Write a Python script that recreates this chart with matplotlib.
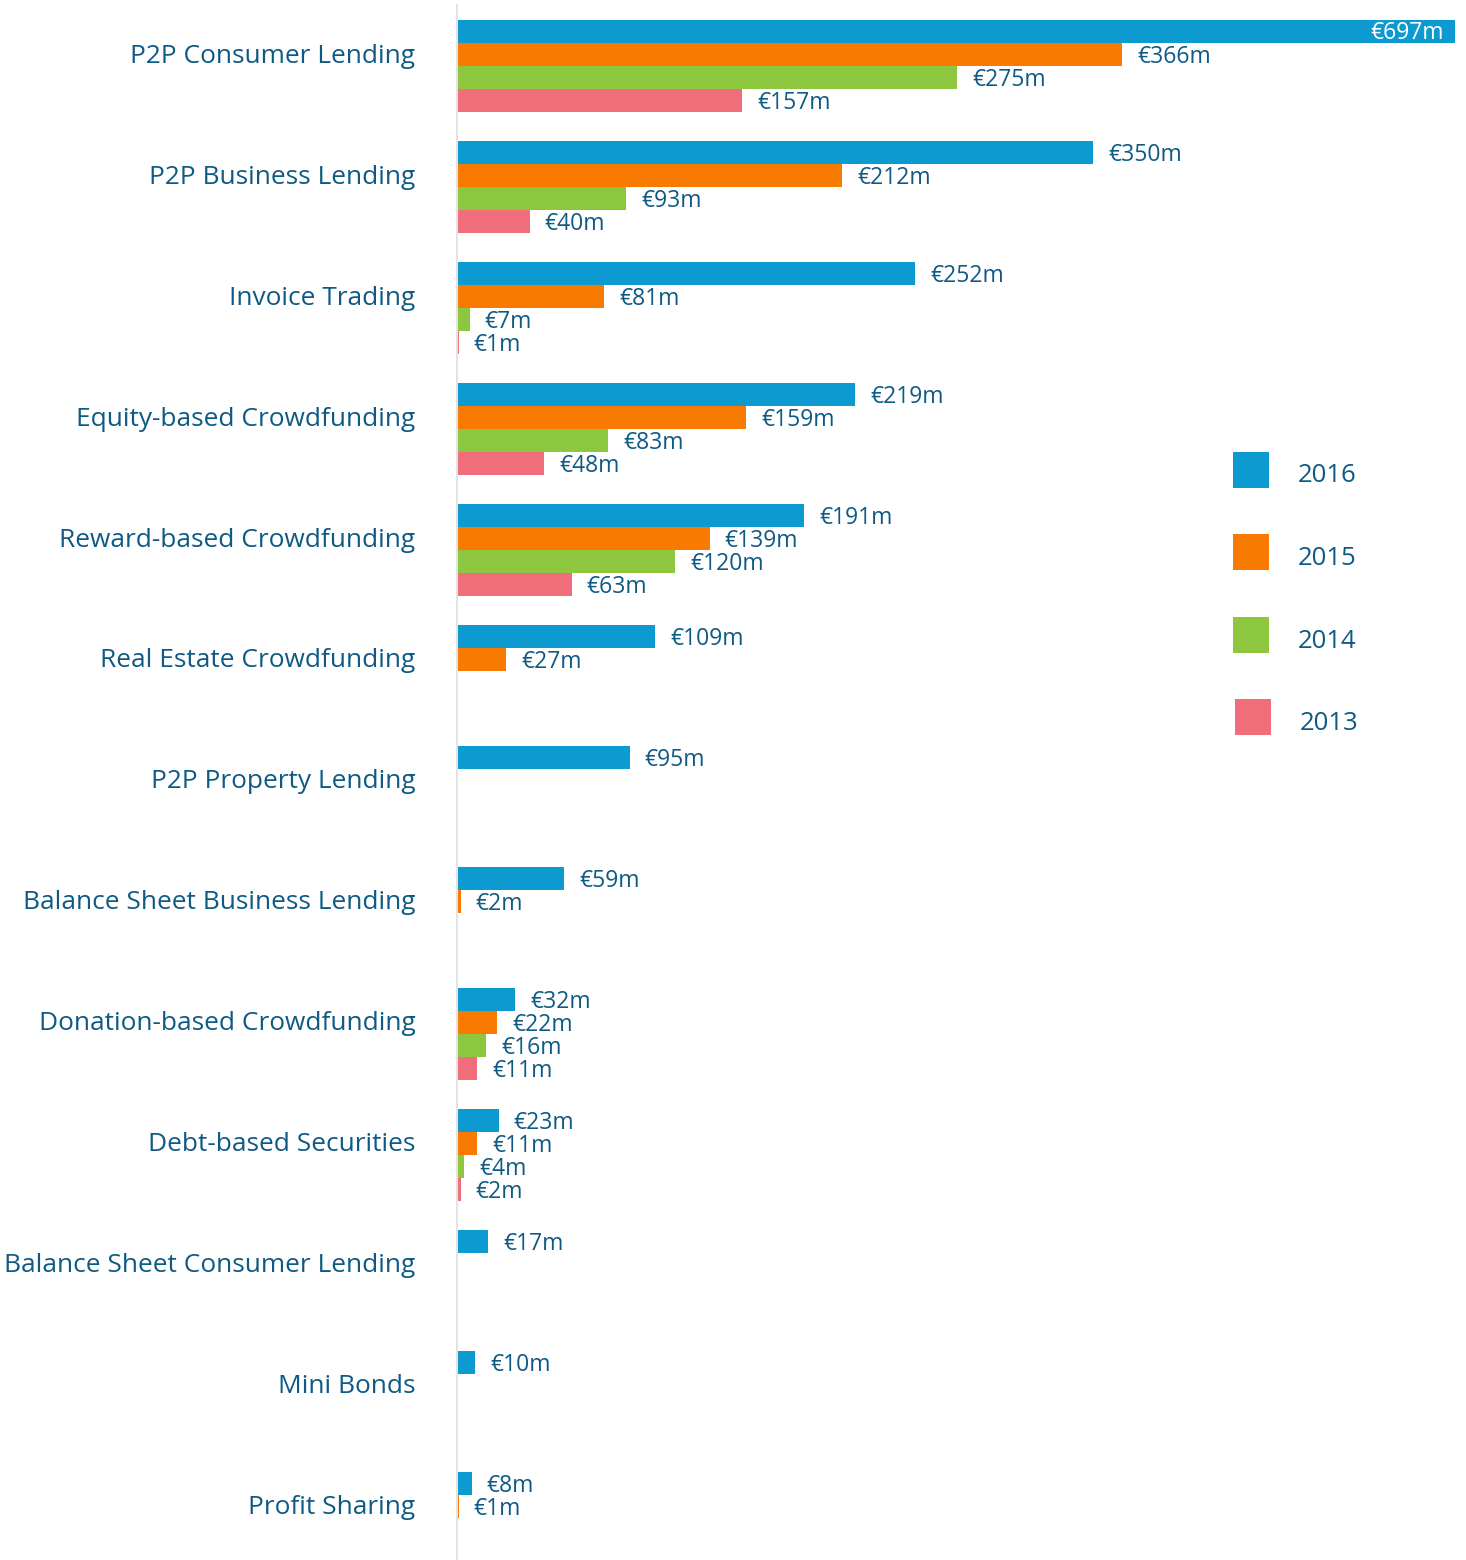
import matplotlib
matplotlib.use("Agg")
import matplotlib.pyplot as plt
from matplotlib.patches import Rectangle
import numpy as np

# ── dane ─────────────────────────────────────────────────────────────────────
categories = ["P2P Consumer Lending", "P2P Business Lending", "Invoice Trading",
              "Equity-based Crowdfunding", "Reward-based Crowdfunding",
              "Real Estate Crowdfunding", "P2P Property Lending",
              "Balance Sheet Business Lending", "Donation-based Crowdfunding",
              "Debt-based Securities", "Balance Sheet Consumer Lending",
              "Mini Bonds", "Profit Sharing"]
years = ["2016", "2015", "2014", "2013"]
v2016 = [697, 350, 252, 219, 191, 109, 95, 59, 32, 23, 17, 10, 8]
v2015 = [366, 212, 81, 159, 139, 27, None, 2, 22, 11, None, None, 1]
v2014 = [275, 93, 7, 83, 120, None, None, None, 16, 4, None, None, None]
v2013 = [157, 40, 1, 48, 63, None, None, None, 11, 2, None, None, None]
series = [v2016, v2015, v2014, v2013]

colors = ["#0C9AD0", "#F97A00", "#8DC63F", "#EF6E7A"]
TXT = "#0E5A85"
plt.rcParams["font.family"] = ["Open Sans", "DejaVu Sans"]

W, H = 1466, 1560
fig = plt.figure(figsize=(W / 100, H / 100), dpi=100)
ax = fig.add_axes([457 / W, 0, 998 / W, 1555 / H])

XMAX = 549          # najdluzszy slupek (697) jest obciety na krawedzi
bar_h = 0.19
offsets = [-0.178, 0.012, 0.202, 0.392]
y = np.arange(len(categories))

for vals, off, col in zip(series, offsets, colors):
    for i, v in enumerate(vals):
        if v is None:
            continue
        ax.barh(y[i] + off, v, height=bar_h, color=col, linewidth=0)
        if v > XMAX:
            ax.annotate(f"€{v}m", xy=(1, y[i] + off), xycoords=("axes fraction", "data"),
                        xytext=(-11, -2), textcoords="offset pixels",
                        ha="right", va="center", color="white", fontsize=16.5)
        else:
            ax.annotate(f"€{v}m", xy=(v, y[i] + off), xytext=(15, -3),
                        textcoords="offset pixels", ha="left", va="center",
                        color=TXT, fontsize=16.5)

ax.set_xlim(0, XMAX)
ax.set_ylim(12.455, -0.397)
ax.set_yticks(y)
ax.set_yticklabels(categories, fontsize=18.9, color=TXT)
ax.tick_params(axis="y", length=0, pad=30)
ax.set_xticks([])
for s in ["top", "right", "bottom"]:
    ax.spines[s].set_visible(False)
ax.spines["left"].set_color("#E3E3E3")
ax.spines["left"].set_linewidth(1.5)

# ── legenda (kwadraty 36px) ──────────────────────────────────────────────────
leg_top = [452, 534, 617, 699]
leg_x = [1233, 1233, 1233, 1235]
for yr, col, top, lx in zip(years, colors, leg_top, leg_x):
    fig.add_artist(Rectangle((lx / W, 1 - (top + 36) / H), 36 / W, 36 / H,
                             transform=fig.transFigure, facecolor=col,
                             edgecolor="none"))
    fig.text((lx + 65) / W, 1 - (top + 24) / H, yr, ha="left", va="center",
             fontsize=18.5, color=TXT)

fig.savefig("out.png", dpi=100)
